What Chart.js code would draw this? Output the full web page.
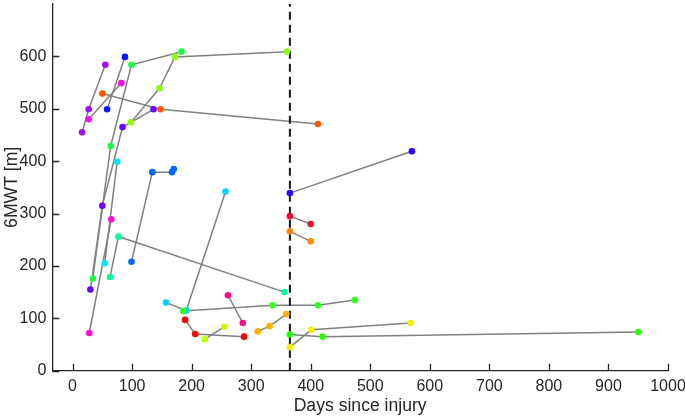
<!DOCTYPE html>
<html>
<head>
<meta charset="utf-8">
<script src="https://cdn.jsdelivr.net/npm/chart.js@4/dist/chart.umd.min.js"></script>
<style>
html,body{margin:0;padding:0;background:#fff;}
#wrap{width:685px;height:417px;position:relative;}
canvas{display:block;}
</style>
</head>
<body>
<div id="wrap"><canvas id="c" width="685" height="417"></canvas></div>
<script>
// ---- data ----
const subjectDays = [
  [16, 27, 55],
  [27, 82],
  [50, 148, 412],
  [58, 88],
  [34, 64, 99, 183],
  [98, 146, 172, 360],
  [30, 50, 84, 136],
  [54, 75],
  [63, 77, 356],
  [28, 65],
  [99, 134, 167, 170],
  [157, 191, 257],
  [186, 336, 412, 474],
  [261, 286],
  [189, 206, 288],
  [222, 255],
  [311, 331, 359],
  [365, 420, 950],
  [365, 401, 568],
  [365, 570],
  [365, 400],
  [365, 400]
];
const subject6MWT = [
  [455, 499, 584],
  [480, 549],
  [529, 499, 471],
  [499, 599],
  [176, 429, 584, 609],
  [474, 539, 599, 609],
  [155, 315, 465, 499],
  [205, 399],
  [179, 256, 150],
  [72, 289],
  [208, 379, 379, 385],
  [130, 115, 342],
  [114, 125, 125, 135],
  [144, 91],
  [97, 70, 65],
  [60, 84],
  [75, 85, 108],
  [69, 65, 74],
  [45, 78, 91],
  [339, 419],
  [295, 280],
  [266, 247]
];
const subjectColors = [
  "#a010f0", "#f010f0", "#ff5a00", "#0a14ff", "#18ff40", "#8cff10",
  "#6a00ff", "#00e8ff", "#00ff9a", "#ff10d0", "#0068ff", "#00d4ff",
  "#30ff20", "#ff0a8c", "#ff0000", "#c8ff00", "#ffb000", "#2cff00",
  "#f0f000", "#2a00ff", "#ff0040", "#ff8800"
];
const oneYearDay = 365;
const xTickValues = [0, 100, 200, 300, 400, 500, 600, 700, 800, 900, 1000];
const xTickLabels = ["0", "100", "200", "300", "400", "500", "600", "700", "800", "900", "1000"];
const yTickValues = [0, 100, 200, 300, 400, 500, 600];
const yTickLabels = ["0", "100", "200", "300", "400", "500", "600"];
const xRange = [-34, 1000];
const yRange = [0, 700];
const xTitle = "Days since injury";
const yTitle = "6MWT [m]";

// ---- build datasets ----
const lineDatasets = subjectDays.map((days, i) => ({
  type: 'line',
  data: days.map((d, j) => ({x: d, y: subject6MWT[i][j]})),
  borderColor: '#808080',
  borderWidth: 1.5,
  pointRadius: 0,
  fill: false,
  tension: 0,
  order: 3
}));
const pointDataset = {
  type: 'scatter',
  data: subjectDays.flatMap((days, i) => days.map((d, j) => ({x: d, y: subject6MWT[i][j]}))),
  pointBackgroundColor: subjectDays.flatMap((days, i) => days.map(() => subjectColors[i])),
  pointBorderColor: subjectDays.flatMap((days, i) => days.map(() => subjectColors[i])),
  pointBorderWidth: 0,
  pointRadius: 3.3,
  order: 1
};
const refDataset = {
  type: 'line',
  data: [{x: oneYearDay, y: yRange[0]}, {x: oneYearDay, y: yRange[1]}],
  borderColor: '#141414',
  borderWidth: 2,
  borderDash: [8, 5],
  pointRadius: 0,
  fill: false,
  order: 2
};

const axisColor = '#262626';
const inwardTicks = {
  id: 'inwardTicks',
  afterDraw(chart) {
    const {ctx, chartArea, scales: {x, y}} = chart;
    ctx.save();
    ctx.strokeStyle = axisColor;
    ctx.lineWidth = 1.3;
    ctx.beginPath();
    xTickValues.forEach(v => {
      const px = Math.round(x.getPixelForValue(v)) + 0.5;
      ctx.moveTo(px, chartArea.bottom);
      ctx.lineTo(px, chartArea.bottom - 7);
    });
    yTickValues.forEach(v => {
      const py = Math.round(y.getPixelForValue(v)) + 0.5;
      ctx.moveTo(chartArea.left, py);
      ctx.lineTo(chartArea.left + 7, py);
    });
    ctx.stroke();
    ctx.restore();
  }
};

new Chart(document.getElementById('c'), {
  data: {datasets: [...lineDatasets, refDataset, pointDataset]},
  options: {
    responsive: false,
    animation: false,
    devicePixelRatio: 1,
    layout: {padding: {left: 0, right: 17, top: 0, bottom: 0}},
    plugins: {legend: {display: false}, tooltip: {enabled: false}},
    scales: {
      x: {
        type: 'linear',
        min: xRange[0], max: xRange[1],
        afterBuildTicks: s => { s.ticks = xTickValues.map(v => ({value: v})); },
        afterFit: s => { s.height = 46.3; s.paddingLeft = 0; s.paddingRight = 0; },
        grid: {display: false, drawTicks: false},
        border: {display: true, color: axisColor, width: 1.3},
        ticks: {
          font: {family: 'Liberation Sans', size: 16}, color: axisColor, padding: 6,
          maxRotation: 0, autoSkip: false,
          callback: v => { const k = xTickValues.indexOf(v); return k >= 0 ? xTickLabels[k] : ''; }
        },
        title: {display: true, text: xTitle, font: {family: 'Liberation Sans', size: 17.6}, color: axisColor, padding: {top: 0, bottom: 0}}
      },
      y: {
        type: 'linear',
        min: yRange[0], max: yRange[1],
        afterBuildTicks: s => { s.ticks = yTickValues.map(v => ({value: v})); },
        afterFit: s => { s.width = 52.3; s.paddingTop = 0; s.paddingBottom = 0; },
        grid: {display: false, drawTicks: false},
        border: {display: true, color: axisColor, width: 1.3},
        ticks: {
          font: {family: 'Liberation Sans', size: 16}, color: axisColor, padding: 6, autoSkip: false,
          callback: v => { const k = yTickValues.indexOf(v); return k >= 0 ? yTickLabels[k] : ''; }
        },
        title: {display: true, text: yTitle, font: {family: 'Liberation Sans', size: 17.6}, color: axisColor, padding: {top: 2, bottom: 0}}
      }
    }
  },
  plugins: [inwardTicks]
});
</script>
</body>
</html>
